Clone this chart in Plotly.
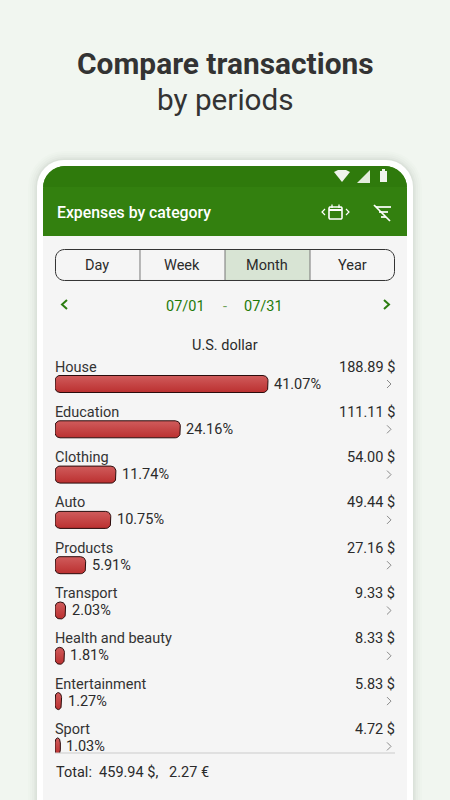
#!/usr/bin/env python

import numpy as np
import plotly.graph_objects as go

# ----------------------------
# Chart data
# ----------------------------
categories = ["House", "Education", "Clothing", "Auto", "Products", "Transport",
              "Health and beauty", "Entertainment", "Sport"]
percents = [41.07, 24.16, 11.74, 10.75, 5.91, 2.03, 1.81, 1.27, 1.03]
amounts = ["188.89 $", "111.11 $", "54.00 $", "49.44 $", "27.16 $", "9.33 $",
           "8.33 $", "5.83 $", "4.72 $"]
periods = ["Day", "Week", "Month", "Year"]

W, H = 450, 800
FONT = "Roboto"
GREEN = "#33800f"
TEXT = "#2b2b2b"

# plot area in page pixels
LEFT, RIGHT, TOP, BOTTOM = 55, 395, 355, 753
PX_PER_PCT = 5.186
ROW_H = 45.3
FIRST_ROW = 384
BAR_H = 17
RADIUS = 5

x_max = (RIGHT - LEFT) / PX_PER_PCT
y_bottom = (BOTTOM - FIRST_ROW) / ROW_H
y_top = (TOP - FIRST_ROW) / ROW_H


def px(x):
    return x / W


def py(y):
    return 1 - y / H


def path(points, close=True):
    s = "M" + " L".join(f"{px(x):.5f},{py(y):.5f}" for x, y in points)
    return s + (" Z" if close else "")


def rounded(x0, y0, x1, y1, r, square_bottom=False):
    pts = []
    corners = [(x1 - r, y0 + r, -90), (x0 + r, y0 + r, -180)]
    for cx, cy, a in [corners[1], corners[0]]:
        for t in np.radians(np.linspace(a, a + 90, 9)):
            pts.append((cx + r * np.cos(t), cy + r * np.sin(t)))
    if square_bottom:
        pts += [(x1, y1), (x0, y1)]
    else:
        for cx, cy, a in [(x1 - r, y1 - r, 0), (x0 + r, y1 - r, 90)]:
            for t in np.radians(np.linspace(a, a + 90, 9)):
                pts.append((cx + r * np.cos(t), cy + r * np.sin(t)))
    return path(pts)


def bar_outline(value, row):
    # rounded bar in data units, so it goes through the axes
    half = BAR_H / 2 / ROW_H
    ry = RADIUS / ROW_H
    rx = min(RADIUS / PX_PER_PCT, value / 2)
    xs, ys = [], []
    for cx, cy, a in [(value - rx, row - half + ry, -90), (value - rx, row + half - ry, 0),
                      (rx, row + half - ry, 90), (rx, row - half + ry, 180)]:
        t = np.radians(np.linspace(a, a + 90, 9))
        xs += list(cx + rx * np.cos(t))
        ys += list(cy + ry * np.sin(t))
    return xs + xs[:1], ys + ys[:1]


fig = go.Figure()

# ----------------------------
# Bars
# ----------------------------
for i, (name, value) in enumerate(zip(categories, percents)):
    xs, ys = bar_outline(value, i)
    fig.add_trace(go.Scatter(
        x=xs, y=ys, mode="lines", fill="toself", name=name,
        line=dict(color="#2a0c0c", width=1),
        fillgradient=dict(type="vertical", colorscale=[[0, "#bb3030"], [1, "#d05c5c"]]),
        hoverinfo="skip", showlegend=False,
    ))

# ----------------------------
# Phone frame and header
# ----------------------------
shapes = []


def add_shape(d, fill=None, line=None, width=1, layer="below"):
    shapes.append(dict(type="path", path=d, xref="paper", yref="paper", layer=layer,
                       fillcolor=fill if fill else "rgba(0,0,0,0)",
                       line=dict(color=line if line else "rgba(0,0,0,0)",
                                 width=width if line else 0)))


for grow, alpha in [(9, 0.012), (7, 0.015), (5, 0.02), (3, 0.025), (1.5, 0.03)]:
    add_shape(rounded(37 - grow, 160 - grow, 413 + grow, 800, 27 + grow, True),
              fill=f"rgba(40,60,40,{alpha})")
add_shape(rounded(37, 160, 413, 800, 27, True), fill="#ffffff")
add_shape(rounded(43, 166, 407, 800, 22, True), fill="#f5f5f5")
add_shape(rounded(43, 166, 407, 236, 22, True), fill=GREEN)
add_shape(rounded(43, 166, 407, 187, 22, True), fill="#2f7a0c")

# status bar icons
add_shape(path([(334, 172), (338, 170), (346, 170), (350, 172), (342, 182)]), fill="#f0f4ec")
add_shape(path([(357, 183), (370, 170), (370, 183)]), fill="#e4ecdc")
add_shape(path([(380, 171), (382, 171), (382, 169), (385, 169), (385, 171), (387, 171),
                (387, 182), (380, 182)]), fill="#f0f4ec")

# calendar icon with arrows
add_shape(rounded(329, 207, 342, 219, 1.5), line="#ffffff", width=1.6)
add_shape(path([(329, 210), (342, 210)], False), line="#ffffff", width=2)
add_shape(path([(332, 204.5), (332, 208)], False), line="#ffffff", width=1.3)
add_shape(path([(339, 204.5), (339, 208)], False), line="#ffffff", width=1.3)
add_shape(path([(325, 209), (322, 212), (325, 215)], False), line="#ffffff", width=1.2)
add_shape(path([(346, 209), (349, 212), (346, 215)], False), line="#ffffff", width=1.2)

# filter icon, crossed out
add_shape(path([(376, 207), (391, 207)], False), line="#ffffff", width=1.7)
add_shape(path([(379, 212), (388, 212)], False), line="#ffffff", width=1.7)
add_shape(path([(381, 217), (386, 217)], False), line="#ffffff", width=1.7)
add_shape(path([(374, 205), (390, 221)], False), line="#ffffff", width=1.7)

# period selector
add_shape(path([(225, 250), (310, 250), (310, 280), (225, 280)]), fill="#d8e4d4")
add_shape(rounded(55.5, 249.5, 394.5, 280.5, 9), line="#333333", width=1)
for x_div in [140, 225, 310]:
    add_shape(path([(x_div, 250), (x_div, 280)], False), line="#777777", width=1)

# date arrows
add_shape(path([(67, 300), (62, 304.5), (67, 309)], False), line="#2c7d10", width=2)
add_shape(path([(384, 300), (389, 304.5), (384, 309)], False), line="#2c7d10", width=2)

# row arrows and footer line
for i in range(len(categories)):
    yc = FIRST_ROW + ROW_H * i
    add_shape(path([(387, yc - 4), (391, yc), (387, yc + 4)], False), line="#8a8a8a", width=1)
add_shape(path([(55, 753), (395, 753)], False), line="#cccccc", width=1.2, layer="above")

# ----------------------------
# Text
# ----------------------------
annotations = []


def add_text(text, x, y, size=14.5, color=TEXT, anchor="left", weight=None):
    font = dict(family=FONT, size=size, color=color)
    if weight:
        font["weight"] = weight
    annotations.append(dict(text=text, x=px(x), y=py(y), xref="paper", yref="paper",
                            xanchor=anchor, yanchor="middle", showarrow=False, font=font,
                            borderpad=0))


add_text("<b>Compare transactions</b>", 225, 64, size=29.9, color="#333333", anchor="center")
add_text("by periods", 225, 99, size=29.7, color="#333333", anchor="center")
add_text("Expenses by category", 56, 212, size=15.8, color="#ffffff", weight=500)

for label, x_mid in zip(periods, [97, 182, 267, 352]):
    add_text(label, x_mid, 265.5, anchor="center")

add_text("07/01", 185.5, 306, color="#1f7a08", anchor="center")
add_text("-", 225, 306, color="#6fa35c", anchor="center")
add_text("07/31", 263.5, 306, color="#1f7a08", anchor="center")
add_text("U.S. dollar", 225.5, 345, anchor="center")

for i, (name, value, amount) in enumerate(zip(categories, percents, amounts)):
    yc = FIRST_ROW + ROW_H * i
    add_text(name, 54, yc - 17, color="#333333")
    add_text(amount, 396, yc - 17, anchor="right")
    # percent label follows the end of the bar
    annotations.append(dict(text=f"{value:.2f}%", x=value, y=i, xref="x", yref="y",
                            xanchor="left", yanchor="middle", xshift=4, yshift=0, showarrow=False,
                            font=dict(family=FONT, size=14.5, color=TEXT)))

add_text("Total:  459.94 $,   2.27 €", 55, 772.5)

fig.update_layout(
    width=W, height=H, autosize=False,
    margin=dict(l=0, r=0, t=0, b=0),
    paper_bgcolor="#f1f6f0", plot_bgcolor="rgba(0,0,0,0)",
    showlegend=False, shapes=shapes, annotations=annotations,
    xaxis=dict(domain=[px(LEFT), px(RIGHT)], range=[0, x_max], visible=False, fixedrange=True),
    yaxis=dict(domain=[py(BOTTOM), py(TOP)], range=[y_bottom, y_top], visible=False, fixedrange=True),
)

fig.write_html("out.html", config=dict(displayModeBar=False),
               post_script="document.body.style.margin='0';")
